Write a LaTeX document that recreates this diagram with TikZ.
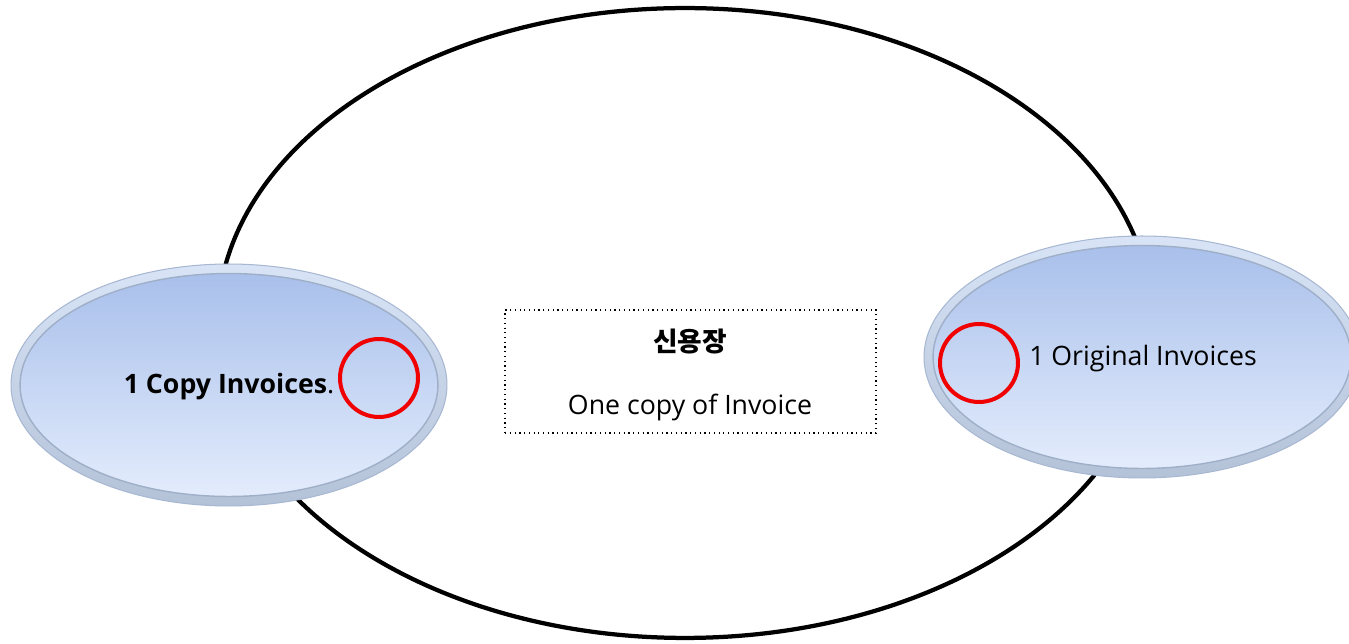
\documentclass[tikz,border=0pt]{standalone}
\usepackage{fontspec}
\setmainfont{Open Sans}
\newfontfamily\hangul{Noto Sans CJK KR}
\usetikzlibrary{shapes.geometric}
\definecolor{aneltopo}{HTML}{D8E4F6}
\definecolor{anelbase}{HTML}{B4C2D8}
\definecolor{anelborda}{HTML}{A8B8D2}
\definecolor{ovaltopo}{HTML}{A9C0EB}
\definecolor{ovalbase}{HTML}{E3ECFC}
\definecolor{ovalborda}{HTML}{9FAFC8}
\definecolor{marcavermelha}{HTML}{F00000}

\begin{document}
\begin{tikzpicture}[x=0.02cm, y=-0.02cm, every node/.style={font=\fontsize{15.2}{18}\selectfont},
    anel/.style={ellipse, inner sep=0pt, minimum width=8.72cm, minimum height=4.84cm, draw=anelborda, line width=0.6pt, top color=aneltopo, bottom color=anelbase},
    oval/.style={ellipse, inner sep=0pt, minimum width=8.36cm, minimum height=4.46cm, draw=ovalborda, line width=0.8pt, top color=ovaltopo, bottom color=ovalbase},
    marca/.style={circle, inner sep=0pt, minimum size=1.56cm, draw=marcavermelha, line width=0.08cm}]
    \useasboundingbox (0,0) rectangle (1349,644);
    \begin{scope}
    \clip (0,0) rectangle (1349,644);
    % contorno grande
    \node[ellipse, draw, line width=0.085cm, inner sep=0pt, minimum width=18.7cm, minimum height=12.6cm] (contorno) at (685,323) {};
    % lado esquerdo
    \node[anel] (anelcopia) at (229,385) {};
    \node[oval] (copia) at (229,385) {};
    \node[marca] (marcacopia) at (379,378) {};
    \node (textocopia) at (229,387) {\bfseries 1 Copy Invoices\mdseries.};
    % lado direito
    \node[anel] (aneloriginal) at (1142,357) {};
    \node[oval] (original) at (1142,357) {};
    \node[marca] (marcaoriginal) at (979,363) {};
    \node (textooriginal) at (1143,359) {1 Original Invoices};
    \end{scope}
    % quadro central
    \node[draw, dotted, line width=0.7pt, minimum width=7.42cm, minimum height=2.46cm] (quadro) at (690.5,371.5) {};
    \node (titulo) at (690,342) {\hangul\bfseries 신용장};
    \node (nota) at (690,407) {One copy of Invoice};
\end{tikzpicture}
\end{document}
